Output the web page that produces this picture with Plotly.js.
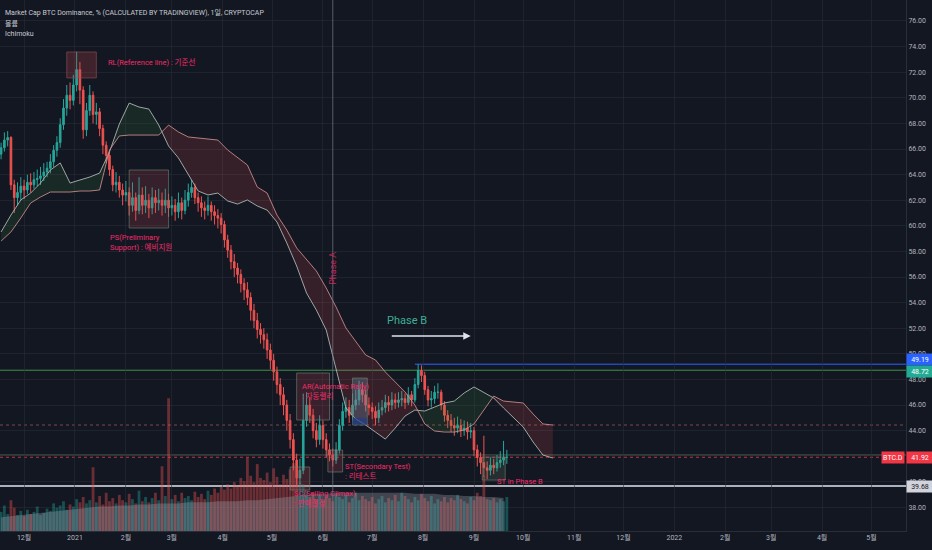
<!DOCTYPE html>
<html><head><meta charset="utf-8">
<script src="https://cdn.plot.ly/plotly-3.0.1.min.js"></script>
<style>html,body{margin:0;padding:0;background:#131722;}#chart{width:932px;height:550px;}</style>
</head><body><div id="chart"></div>
<script>
// ---- data ----
const candleStart = '2020-11-17';
const candleStepDays = 2;
const firstOpen = 65.6;
const closes = [
66.1,66.7,66.9,63.2,62.2,62.6,63.1,62.8,63.4,63.2,
63.6,63.7,63.9,64.2,64.5,65.0,65.9,66.5,67.9,69.2,
70.2,69.8,71.0,72.2,70.6,67.5,69.0,70.2,68.7,68.9,
67.6,66.3,65.5,64.4,63.2,63.4,62.8,62.4,62.6,61.6,
62.2,61.2,62.4,61.6,62.0,61.4,62.2,61.8,62.0,61.6,
62.0,61.4,61.6,61.1,61.8,61.2,62.0,62.6,63.0,62.2,
61.8,61.4,61.2,61.6,61.1,60.8,60.6,60.1,58.9,58.1,
57.2,56.7,56.2,55.5,55.0,54.4,53.4,52.6,51.9,51.5,
51.1,50.3,49.5,48.6,47.6,46.8,46.0,44.8,43.3,41.7,
40.3,40.9,44.8,46.0,45.2,44.0,43.3,44.4,43.3,42.5,
42.1,41.7,42.5,44.4,45.5,45.8,45.2,46.0,46.4,47.2,
46.8,46.0,45.8,45.5,45.0,45.6,45.8,46.2,46.0,46.4,
46.2,46.4,46.5,46.2,46.8,46.4,47.6,48.7,48.3,47.2,
46.4,46.5,47.0,47.0,46.0,45.2,44.8,44.4,44.2,44.4,
44.0,44.2,43.9,44.0,42.5,41.9,41.5,41.1,40.9,41.3,
41.1,41.5,41.7,41.9,41.92];
const highs = [
66.5,67.3,67.4,67.0,63.6,63.4,63.8,63.6,64.0,64.1,
64.2,64.4,64.6,64.9,65.0,65.6,66.3,67.0,68.4,69.9,
71.0,71.2,71.8,73.6,72.8,70.9,69.6,71.0,70.5,69.6,
69.2,67.9,66.6,65.8,64.7,64.2,63.9,63.3,63.5,63.0,
63.4,62.6,63.8,63.0,63.1,62.5,63.0,62.8,62.9,62.6,
62.9,62.5,62.3,62.1,62.6,62.2,62.8,63.3,63.6,63.3,
62.6,62.3,61.9,62.3,61.9,61.6,61.3,61.0,60.4,59.3,
58.5,57.8,57.1,56.6,55.9,55.6,54.8,53.9,53.2,52.4,
52.0,51.6,50.8,50.0,49.0,48.1,47.4,46.4,45.3,43.8,
42.2,41.8,46.9,47.0,46.6,45.7,44.6,45.2,44.8,43.8,
43.0,42.6,43.1,44.9,46.2,46.6,46.4,46.9,47.2,47.9,
47.8,47.2,46.6,46.2,45.9,46.2,46.4,46.8,46.7,47.0,
46.9,47.0,47.1,46.9,47.4,47.1,48.1,49.19,49.1,48.6,
47.5,47.1,47.5,47.7,47.2,46.3,45.6,45.3,45.0,45.1,
44.9,44.8,44.7,44.6,44.3,42.9,42.3,43.6,41.6,41.9,
41.8,42.1,42.4,43.2,42.5];
const lows = [
65.2,65.8,66.2,62.8,61.0,61.6,62.0,62.1,62.5,62.6,
62.9,63.1,63.2,63.5,63.8,64.1,64.6,65.4,66.1,67.5,
68.6,69.1,69.4,70.5,69.5,66.8,67.0,68.6,68.0,67.9,
67.0,65.6,64.9,63.9,62.7,62.6,62.2,61.6,61.9,60.8,
61.1,60.4,60.9,60.9,61.0,60.6,60.9,61.0,61.2,60.8,
61.0,60.7,60.8,60.4,60.6,60.5,60.9,61.5,62.2,61.7,
61.1,60.7,60.5,60.8,60.4,60.1,59.8,59.4,58.3,57.5,
56.6,56.0,55.5,54.8,54.2,53.8,52.6,52.0,51.2,50.8,
50.4,49.6,48.8,47.9,46.9,46.0,45.2,44.0,42.6,40.9,
39.7,39.8,40.6,44.3,44.6,43.4,42.7,42.9,42.6,41.9,
41.6,41.2,41.4,42.2,44.0,45.0,44.6,44.8,45.6,46.0,
46.2,45.5,45.2,44.9,44.4,44.6,45.2,45.4,45.5,45.6,
45.7,45.8,45.9,45.7,46.0,45.9,46.2,47.3,47.8,46.8,
45.9,45.8,46.1,46.5,45.6,44.7,44.2,43.9,43.6,43.8,
43.5,43.6,43.3,43.4,42.0,41.2,40.6,40.4,40.2,40.5,
40.6,40.8,41.1,41.3,41.4];
const volumes = [
1.8,2.4,1.6,2.9,2.2,1.5,1.9,1.4,2.0,1.6,1.8,2.3,1.5,1.7,2.1,1.9,2.6,2.2,2.4,2.8,2.0,2.5,2.3,3.0,2.7,
3.2,2.6,2.9,6.0,2.7,3.3,2.5,3.6,2.8,3.1,2.6,3.4,2.9,2.7,3.5,3.0,2.6,3.8,2.8,3.2,2.7,3.1,3.6,2.9,6.1,3.3,
12.5,
3.0,3.4,2.8,3.6,3.1,3.3,2.9,3.7,3.2,3.5,3.0,3.8,3.4,4.0,3.6,4.2,3.9,4.4,4.0,4.6,4.3,5.0,4.7,6.9,
5.2,4.6,6.3,5.0,4.8,5.5,4.6,5.9,5.1,4.4,5.3,4.9,5.8,6.4,5.0,4.6,
4.4,3.8,3.2,3.6,3.0,3.4,2.9,3.3,3.1,2.8,3.5,3.2,3.0,3.4,2.7,3.1,3.6,2.9,3.3,3.0,
2.8,3.2,2.6,3.0,3.3,2.7,3.1,2.9,3.4,2.8,3.6,3.3,3.0,2.7,3.2,2.9,3.5,3.1,2.8,3.3,
2.6,3.0,2.8,3.2,2.7,3.1,2.9,3.4,3.0,2.8,2.6,3.2,2.9,3.6,3.3,5.2,3.0,2.9,3.1,2.7,
3.0,2.8,3.2];
// Ichimoku leading spans (already shifted forward), sampled every 6 days
const cloudStart = '2020-11-17';
const cloudStepDays = 6;
const spanA = [
59.52,60.84,62.02,62.56,63.34,64.36,64.91,63.34,63.58,63.81,
64.12,65.77,67.95,69.59,69.28,69.12,67.87,66.23,65.30,63.97,
62.72,62.41,62.56,61.94,61.70,62.02,61.55,61.23,60.30,58.66,
56.86,54.75,53.42,51.86,48.73,45.77,44.91,44.44,43.89,43.34,
44.20,45.14,45.61,45.53,45.84,46.16,46.31,46.94,47.41,47.01,
46.55,45.77,45.06,44.28,43.11,42.09,41.86];
const spanB = [
58.81,59.52,60.61,61.78,62.25,62.64,62.64,62.64,62.72,62.72,
62.80,65.92,67.02,67.09,67.09,67.09,67.09,67.87,67.33,66.94,
66.86,66.78,66.70,65.92,65.30,64.75,63.03,62.56,60.84,59.67,
58.27,57.33,56.47,55.14,53.66,52.02,50.92,49.91,49.52,48.58,
47.80,47.02,46.00,44.52,43.97,43.89,43.89,44.05,44.52,45.61,
46.70,46.31,46.23,46.16,45.30,44.52,44.44];
const volMA = [
1.3,1.4,1.5,1.6,1.7,1.8,1.9,2.0,2.1,
2.2,2.3,2.3,2.4,2.4,2.5,2.5,2.6,2.6,2.6,2.7,2.7,2.7,2.8,2.8,2.8,2.9,2.9,
3.0,3.1,3.2,3.3,3.4,3.5,3.5,3.6,
3.6,3.6,3.6,3.6,3.6,3.6,3.6,3.5,3.5,3.5,3.4,3.4,3.3,3.3,3.2,3.2,3.1];
const monthTicks = ['2020-12-01','2021-01-01','2021-02-01','2021-03-01','2021-04-01','2021-05-01','2021-06-01','2021-07-01','2021-08-01','2021-09-01','2021-10-01','2021-11-01','2021-12-01','2022-01-01','2022-02-01','2022-03-01','2022-04-01','2022-05-01'];
const monthLabels = ['12월','2021','2월','3월','4월','5월','6월','7월','8월','9월','10월','11월','12월','2022','2월','3월','4월','5월'];
const priceTicks = [38,40,44,46,48,50,52,54,56,58,60,62,64,66,68,70,72,74,76];
const levelBlue = 49.19, levelGreen = 48.72, levelLast = 41.92, levelGray = 39.68, levelDotted = 44.44, levelGreen2 = 42.1;

// ---- build ----
const DAY = 86400000;
function fmt(ms){ return new Date(ms).toISOString().replace('T',' ').slice(0,19); }
const c0 = Date.parse(candleStart+'T00:00:00Z');
const candleMs = closes.map((_,i)=>c0 + i*candleStepDays*DAY);
const candleX = candleMs.map(fmt);
const opens = closes.map((c,i)=> i===0 ? firstOpen : closes[i-1]);
const k0 = Date.parse(cloudStart+'T00:00:00Z');
const cloudMs = spanA.map((_,k)=>k0 + k*cloudStepDays*DAY);
const cloudX = cloudMs.map(fmt);

const traces = [];
let runX=[cloudMs[0]], runA=[spanA[0]], runB=[spanB[0]];
let sign = spanA[0]>=spanB[0];
function flush(){
  const xs = runX.map(fmt);
  traces.push({type:'scatter',mode:'lines',x:xs.concat(xs.slice().reverse()),
    y:runA.concat(runB.slice().reverse()),fill:'toself',
    fillcolor: sign?'rgba(67,160,71,0.13)':'rgba(239,83,80,0.16)',
    line:{width:0},hoverinfo:'skip'});
}
for(let k=1;k<spanA.length;k++){
  const s = spanA[k]>=spanB[k];
  if(s!==sign){
    const d0 = spanA[k-1]-spanB[k-1], d1 = spanA[k]-spanB[k];
    const t = d0/(d0-d1);
    const xm = cloudMs[k-1] + t*(cloudMs[k]-cloudMs[k-1]);
    const ym = spanA[k-1] + t*(spanA[k]-spanA[k-1]);
    runX.push(xm); runA.push(ym); runB.push(ym);
    flush();
    sign = s; runX=[xm]; runA=[ym]; runB=[ym];
  }
  runX.push(cloudMs[k]); runA.push(spanA[k]); runB.push(spanB[k]);
}
flush();
traces.push({type:'scatter',mode:'lines',x:cloudX,y:spanA,line:{color:'rgba(178,190,184,0.85)',width:1},hoverinfo:'skip'});
traces.push({type:'scatter',mode:'lines',x:cloudX,y:spanB,line:{color:'rgba(206,142,142,0.85)',width:1},hoverinfo:'skip'});

traces.push({type:'candlestick',x:candleX,open:opens,high:highs,low:lows,close:closes,
  increasing:{line:{color:'#26a69a',width:1},fillcolor:'#26a69a'},
  decreasing:{line:{color:'#ef5350',width:1},fillcolor:'#ef5350'},
  whiskerwidth:0,hoverinfo:'skip'});

traces.push({type:'bar',x:candleX,y:volumes,yaxis:'y2',
  marker:{color:closes.map((c,i)=> c>=opens[i]?'rgba(38,166,154,0.4)':'rgba(239,83,80,0.4)'),line:{width:0}},
  hoverinfo:'skip'});
traces.push({type:'scatter',mode:'lines',x:cloudX.slice(0,volMA.length),y:volMA,yaxis:'y2',
  fill:'tozeroy',fillcolor:'rgba(170,175,190,0.3)',line:{width:0},hoverinfo:'skip'});

const pink = 'rgb(240,45,105)';
const F = "Roboto, 'Noto Sans CJK KR', sans-serif";
const boxLine = 'rgba(110,135,115,0.6)';
function rect(x0,x1,y0,y1,fill,line){return {type:'rect',xref:'x',yref:'y',x0,x1,y0,y1,fillcolor:fill,line:{color:line,width:1},layer:'above'};}
function hline(y,color,width,dash,x0){return {type:'line',xref:x0?'x':'paper',yref:'y',x0:x0||0,x1:x0?'2022-05-22 02:00':1,y0:y,y1:y,line:{color,width,dash:dash||'solid'},layer:'below'};}
const shapes = [
  {type:'line',xref:'x',yref:'paper',x0:'2021-06-07',x1:'2021-06-07',y0:0,y1:1,line:{color:'rgba(120,123,134,0.7)',width:1}},
  hline(levelDotted,'rgba(170,85,85,0.75)',1,'dot'),
  hline(levelGreen2,'rgba(110,140,115,0.6)',1),
  hline(levelLast,'rgba(242,54,69,0.8)',1,'dot'),
  hline(levelGreen,'rgba(76,175,80,0.8)',1),
  hline(levelBlue,'#2962ff',1,'solid','2021-07-27'),
  hline(levelGray,'rgba(200,203,210,0.85)',2),
  rect('2020-12-27','2021-01-14',71.55,73.58,'rgba(190,70,80,0.25)','rgba(150,80,90,0.6)'),
  rect('2021-02-03','2021-02-27',59.83,64.36,'rgba(190,70,80,0.2)',boxLine),
  rect('2021-05-12','2021-05-24',39.36,41.16,'rgba(190,70,80,0.25)',boxLine),
  rect('2021-05-16','2021-06-05',44.83,48.50,'rgba(190,70,80,0.22)',boxLine),
  rect('2021-06-19','2021-06-28',44.44,48.11,'rgba(110,130,160,0.35)',boxLine),
  rect('2021-06-19','2021-06-28',44.44,45.0,'rgba(30,60,140,0.6)','rgba(0,0,0,0)'),
  rect('2021-06-04','2021-06-13',40.77,42.48,'rgba(190,70,80,0.22)',boxLine),
  rect('2021-09-06','2021-09-20',40.14,41.94,'rgba(110,140,110,0.2)',boxLine)
];
function note(x,y,text,extra){return Object.assign({xref:'x',yref:'y',x,y,text,showarrow:false,xanchor:'left',yanchor:'top',align:'left',font:{family:F,size:7.5,color:pink}},extra||{});}
function hdr(line,text){return {xref:'paper',yref:'paper',x:0,y:1,xshift:3,yshift:-line,xanchor:'left',yanchor:'middle',text,showarrow:false,font:{family:F,size:7,color:'#c8cbd2'}};}
function tag(y,text,bg,fg,right,shift){return {xref:'paper',yref:'y',x:1,y,xanchor:right?'right':'left',yanchor:'middle',xshift:right?-1:0,yshift:shift||0,text,showarrow:false,bgcolor:bg,borderpad:1,width:right?20:24,height:9,font:{family:F,size:7,color:fg}};}
const annotations = [
  hdr(12,'Market Cap BTC Dominance, % (CALCULATED BY TRADINGVIEW), 1일, CRYPTOCAP'),
  hdr(23,'볼륨'),
  hdr(34,'Ichimoku'),
  note('2021-01-20',72.72,'RL(Reference line) : 기준선',{yanchor:'middle'}),
  note('2021-01-21',59.59,'PS(Preliminary<br>Support) : 예비지원'),
  note('2021-05-13',39.59,'SC(Selling Climax)<br>: 판매절정'),
  note('2021-05-18',47.95,'AR(Automatic Rally)<br>: 자동랠리'),
  note('2021-06-13',41.70,'ST(Secondary Test)<br>: 리테스트'),
  note('2021-09-14',40.55,'ST in Phase B'),
  {xref:'x',yref:'y',x:'2021-06-07',y:56.7,text:'Phase A',textangle:-90,showarrow:false,xanchor:'center',yanchor:'middle',font:{family:F,size:9,color:'rgba(215,40,95,0.9)'}},
  {xref:'x',yref:'y',x:'2021-07-22',y:52.64,text:'Phase B',showarrow:false,xanchor:'center',yanchor:'middle',font:{family:F,size:11,color:'#3fae96'}},
  {xref:'x',yref:'y',axref:'x',ayref:'y',x:'2021-08-30',y:51.39,ax:'2021-07-12',ay:51.39,text:'',showarrow:true,arrowhead:2,arrowsize:1,arrowwidth:1.5,arrowcolor:'#e0e3eb'},
  tag(levelBlue,'49.19','#2962ff','#ffffff',false,5),
  tag(levelGreen,'48.72','#22ab94','#ffffff',false,-1),
  tag(levelLast,'41.92','#f23645','#ffffff'),
  tag(levelLast,'BTC.D','#f23645','#ffffff',true),
  tag(levelGray,'39.68','#d1d4dc','#131722',false,-1)
];
const grid = 'rgba(42,46,57,0.55)';
const layout = {
  width:932,height:550,paper_bgcolor:'#131722',plot_bgcolor:'#131722',
  margin:{l:0,r:26,t:0,b:19},showlegend:false,dragmode:false,
  font:{family:F,color:'#b2b5be',size:7},
  xaxis:{type:'date',range:['2020-11-16 08:00','2022-05-22 02:00'],tickmode:'array',tickvals:monthTicks,ticktext:monthLabels,
    showgrid:true,gridcolor:grid,showline:true,linecolor:'#2a2e39',ticks:'',zeroline:false,
    tickfont:{family:F,size:7,color:'#b2b5be'},rangeslider:{visible:false},fixedrange:true},
  yaxis:{side:'right',range:[36.16,77.64],tickmode:'array',tickvals:priceTicks,tickformat:'.2f',showgrid:true,gridcolor:grid,
    showline:true,linecolor:'#2a2e39',ticks:'',zeroline:false,tickfont:{family:F,size:7,color:'#b2b5be'},fixedrange:true},
  yaxis2:{overlaying:'y',range:[0,50],visible:false,fixedrange:true},
  bargap:0.15,
  shapes,annotations
};
Plotly.newPlot('chart',traces,layout,{displayModeBar:false,staticPlot:true});
</script></body></html>
